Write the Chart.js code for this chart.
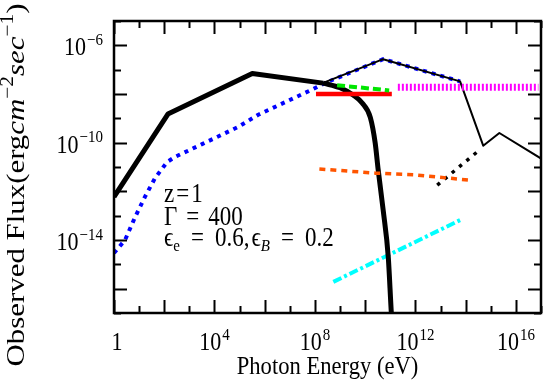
<!DOCTYPE html>
<html>
<head>
<meta charset="utf-8">
<script src="https://cdn.jsdelivr.net/npm/chart.js@4/dist/chart.umd.min.js"></script>
<style>
  html, body { margin: 0; padding: 0; background: #fff; }
  #wrap { width: 545px; height: 382px; }
</style>
</head>
<body>
<div id="wrap"><canvas id="sed"></canvas></div>
<script>
// photon energy (eV) and observed flux (erg cm^-2 s^-1)
// thick black: broken power law part, then the high energy cut-off
const syncE = [1, 1.4e2, 3.2e5, 2.1e8];
const syncF = [5.9e-13, 1.5e-9, 7.0e-8, 2.8e-8];
const cutE = [2.1e8, 1.0e9, 3.3e9, 7.6e9, 1.6e10, 2.5e10, 3.3e10, 5.2e10, 8.3e10, 1.1e11, 1.3e11];
const cutF = [2.8e-8, 1.8e-8, 9.1e-9, 4.3e-9, 1.1e-9, 9.8e-11, 7.6e-12, 1.7e-13, 2.0e-15, 1.0e-17, 8e-19];

const totE = [2.0e8, 5.2e10, 6.0e13, 5.0e14, 2.2e15, 1.2e17];
const totF = [2.8e-8, 2.7e-7, 3.3e-8, 7.5e-11, 2.5e-10, 2.0e-11];

const sscE = [1, 2.75, 6.9, 17, 43, 130, 270, 3.2e3, 8.7e4, 5.5e5, 8.5e7, 3.1e8, 5.2e10, 6.0e13];
const sscF = [2.9e-15, 1.0e-14, 8.7e-14, 5.9e-13, 3.5e-12, 1.6e-11, 2.6e-11, 8.7e-11, 4.4e-10, 1.4e-9, 1.6e-8, 3.1e-8, 2.7e-7, 3.3e-8];

const redE = [1.1e8, 1.15e11];
const redF = [1.0e-8, 1.0e-8];

const greenE = [7.6e8, 9.0e10];
const greenF = [2.3e-8, 1.4e-8];

const magE = [2.0e11, 7.9e16];
const magF = [1.9e-8, 1.9e-8];

const dotE = [7.4e12, 2.9e14];
const dotF = [1.8e-12, 4.2e-11];

const orE = [1.5e8, 2.5e10, 1.1e12, 1.3e14];
const orF = [8.3e-12, 5.6e-12, 4.7e-12, 2.9e-12];

const cyE = [5.4e8, 7.2e13];
const cyF = [1.9e-16, 7.2e-14];

// axis decades and labelled ones
const xDecades = [0, 1, 2, 3, 4, 5, 6, 7, 8, 9, 10, 11, 12, 13, 14, 15, 16, 17];
const yDecades = [-17, -16, -15, -14, -13, -12, -11, -10, -9, -8, -7, -6, -5];
const xLabelExp = [0, 4, 8, 12, 16];
const yLabelExp = [-6, -10, -14];

const FONT = '"Liberation Serif", "DejaVu Serif", serif';
const K = 1.15; // the reference text looks stretched vertically

const pts = (xs, ys) => xs.map((x, i) => ({ x: x, y: ys[i] }));

function line(data, color, width, dash, order, extra) {
  return Object.assign({
    data: data,
    borderColor: color,
    borderWidth: width,
    borderDash: dash || [],
    pointRadius: 0,
    tension: 0,
    fill: false,
    borderJoinStyle: 'round',
    clip: 0,
    order: order,
  }, extra || {});
}

// draws a run of text pieces, returns width
function rich(ctx, parts, x, y, sy, measureOnly) {
  let cx = x;
  for (const p of parts) {
    const size = p.size || 22;
    ctx.font = (p.italic ? 'italic ' : '') + size + 'px ' + FONT;
    const w = ctx.measureText(p.t).width;
    if (!measureOnly) {
      ctx.save();
      ctx.translate(cx, y - (p.rise || 0) * sy);
      ctx.scale(1, sy);
      ctx.fillText(p.t, 0, 0);
      ctx.restore();
    }
    cx += w + (p.gap || 0);
  }
  return cx - x;
}

const powParts = (e) => e === 0 ? [{ t: '1' }] :
  [{ t: '10', gap: 1 }, { t: (e < 0 ? '\u2212' : '') + Math.abs(e), size: 15, rise: 9 }];

const decor = {
  id: 'decor',
  afterDraw(chart) {
    const ctx = chart.ctx;
    const a = chart.chartArea;
    const xs = chart.scales.x, ys = chart.scales.y;
    ctx.save();
    ctx.strokeStyle = '#000';
    ctx.fillStyle = '#000';
    ctx.textBaseline = 'alphabetic';
    ctx.textAlign = 'left';

    // inward ticks on all four sides
    ctx.lineWidth = 2;
    ctx.beginPath();
    xDecades.forEach(d => {
      const px = Math.round(xs.getPixelForValue(Math.pow(10, d))) + 0.5;
      const len = d % 2 === 0 ? 13 : 7;
      ctx.moveTo(px, a.bottom); ctx.lineTo(px, a.bottom - len);
      ctx.moveTo(px, a.top); ctx.lineTo(px, a.top + len);
    });
    yDecades.forEach(d => {
      const py = Math.round(ys.getPixelForValue(Math.pow(10, d))) + 0.5;
      const len = d % 2 === 0 ? 13 : 7;
      ctx.moveTo(a.left, py); ctx.lineTo(a.left + len, py);
      ctx.moveTo(a.right, py); ctx.lineTo(a.right - len, py);
    });
    ctx.stroke();

    // frame
    ctx.lineWidth = 2.5;
    ctx.strokeRect(a.left, a.top, a.right - a.left, a.bottom - a.top);

    // tick labels
    xLabelExp.forEach(e => {
      const px = xs.getPixelForValue(Math.pow(10, e));
      const parts = powParts(e);
      const w = rich(ctx, parts, 0, 0, K, true);
      rich(ctx, parts, px - w / 2 + (e === 0 ? 3 : 0), 350, K);
    });
    yLabelExp.forEach(e => {
      const py = ys.getPixelForValue(Math.pow(10, e));
      const parts = powParts(e);
      const w = rich(ctx, parts, 0, 0, K, true);
      rich(ctx, parts, 103 - w, py + 10, K);
    });

    // x title
    const xt = [{ t: 'Photon Energy (eV)', size: 22.6 }];
    const xw = rich(ctx, xt, 0, 0, K, true);
    rich(ctx, xt, (a.left + a.right) / 2 - xw / 2, 374, K);

    // y title, rotated
    const yt = [
      { t: 'Observed Flux(erg', size: 26 },
      { t: 'cm', size: 26, italic: true },
      { t: '\u22122', size: 18, rise: 11 },
      { t: 'sec', size: 26, italic: true },
      { t: '\u22121', size: 18, rise: 11 },
      { t: ')', size: 26 },
    ];
    const yw = rich(ctx, yt, 0, 0, 1, true);
    ctx.save();
    ctx.translate(24, 185);
    ctx.rotate(-Math.PI / 2);
    ctx.scale(363 / yw, 1);
    rich(ctx, yt, -yw / 2, 0, 1);
    ctx.restore();

    // parameter notes
    rich(ctx, [{ t: 'z', size: 23, gap: 2 }, { t: '=', size: 23, gap: 2 }, { t: '1', size: 23 }], 164, 202, K);
    rich(ctx, [
      { t: '\u0393', size: 23, gap: 9 },
      { t: '=', size: 23, gap: 9 },
      { t: '400', size: 23 },
    ], 164, 225, K);
    rich(ctx, [
      { t: '\u03f5', size: 23 },
      { t: 'e', size: 15, rise: -4, gap: 11 },
      { t: '=', size: 23, gap: 11 },
      { t: '0.6', size: 23 },
      { t: ',', size: 23, gap: 2 },
      { t: '\u03f5', size: 23 },
      { t: 'B', size: 15, italic: true, rise: -4, gap: 11 },
      { t: '=', size: 23, gap: 11 },
      { t: '0.2', size: 23 },
    ], 164, 246, K);

    ctx.restore();
  },
};

new Chart(document.getElementById('sed'), {
  type: 'line',
  data: {
    datasets: [
      line(pts(magE, magF), 'rgb(255,0,255)', 7, [2, 2], 1),
      line(pts(greenE, greenF), 'rgb(0,230,0)', 4, [8, 4], 2),
      line(pts(redE, redF), 'rgb(255,0,0)', 4.5, [], 3),
      line(pts(orE, orF), 'rgb(255,85,0)', 3.5, [6, 5], 4),
      line(pts(syncE, syncF), '#000', 5, [], 5),
      line(pts(cutE, cutF), '#000', 5, [], 5, { cubicInterpolationMode: 'monotone' }),
      line(pts(cyE, cyF), 'rgb(0,255,255)', 4, [9, 3, 3, 3], 6),
      line(pts(dotE, dotF), '#000', 3.5, [3.5, 6], 7),
      line(pts(totE, totF), '#000', 2, [], 8),
      line(pts(sscE, sscF), 'rgb(0,0,255)', 4, [4, 5], 9),
    ],
  },
  options: {
    responsive: true,
    maintainAspectRatio: false,
    animation: false,
    devicePixelRatio: 1,
    layout: { padding: { top: 21, right: 4, left: 0, bottom: 0 } },
    plugins: { legend: { display: false }, tooltip: { enabled: false } },
    scales: {
      x: {
        type: 'logarithmic',
        min: 1,
        max: 1e17,
        grid: { display: false },
        border: { display: false },
        ticks: { display: false },
        afterFit: (s) => { s.height = 69; },
      },
      y: {
        type: 'logarithmic',
        min: 1e-17,
        max: 1e-5,
        grid: { display: false },
        border: { display: false },
        ticks: { display: false },
        afterFit: (s) => { s.width = 114; },
      },
    },
  },
  plugins: [decor],
});
</script>
</body>
</html>
